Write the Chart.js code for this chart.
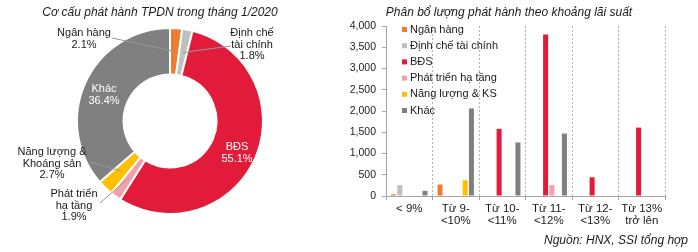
<!DOCTYPE html>
<html>
<head>
<meta charset="utf-8">
<script src="https://cdn.jsdelivr.net/npm/chart.js@4.4.0/dist/chart.umd.min.js"></script>
<style>
body { margin: 0; background: #fff; font-family: "Liberation Sans", Arial, sans-serif; }
#wrap { position: relative; width: 698px; height: 252px; overflow: hidden; }
.title { position: absolute; top: 5px; font-style: italic; font-size: 12px; color: #1a1a1a; text-align: center; white-space: nowrap; }
#src { position: absolute; top: 233px; right: 10px; font-style: italic; font-size: 12px; color: #1a1a1a; white-space: nowrap; }
#pieBox { position: absolute; left: 0; top: 0; width: 300px; height: 252px; }
#barBox { position: absolute; left: 300px; top: 0; width: 398px; height: 252px; }
</style>
</head>
<body>
<div id="wrap">
  <div id="pieBox"><canvas id="pie" width="300" height="252"></canvas></div>
  <div id="barBox"><canvas id="bar" width="398" height="252"></canvas></div>
  <div class="title" style="left:20px;width:280px;">Cơ cấu phát hành TPDN trong tháng 1/2020</div>
  <div class="title" style="left:359px;width:300px;">Phân bổ lượng phát hành theo khoảng lãi suất</div>
  <div id="src">Nguồn: HNX, SSI tổng hợp</div>
</div>
<script>
// donut data (% of issuance, Jan 2020)
const sectors = ['Ngân hàng', 'Định chế tài chính', 'BĐS', 'Phát triển hạ tầng', 'Năng lượng & Khoáng sản', 'Khác'];
const sectorShare = [2.1, 1.8, 55.1, 1.9, 2.7, 36.4];
const sectorLabelLines = [['Ngân hàng'], ['Định chế', 'tài chính'], ['BĐS'], ['Phát triển', 'hạ tầng'], ['Năng lượng &', 'Khoáng sản'], ['Khác']];

// bar data by interest rate band
const rateBands = [['< 9%'], ['Từ 9-', '<10%'], ['Từ 10-', '<11%'], ['Từ 11-', '<12%'], ['Từ 12-', '<13%'], ['Từ 13%', 'trở lên']];
const seriesNames = ['Ngân hàng', 'Định chế tài chính', 'BĐS', 'Phát triển hạ tầng', 'Năng lượng & KS', 'Khác'];
const nganHang = [40, 270, 0, 0, 0, 0];
const dinhChe = [255, 0, 0, 0, 0, 0];
const bds = [0, 0, 1580, 3800, 440, 1610];
const phatTrien = [0, 0, 0, 255, 0, 0];
const nangLuong = [0, 370, 0, 0, 0, 0];
const khac = [120, 2060, 1260, 1470, 0, 0];
const yTicks = [0, 500, 1000, 1500, 2000, 2500, 3000, 3500, 4000];

const colors = ['#ED7D31', '#BFBFBF', '#E31B3B', '#F4A0AA', '#FFC000', '#808080'];
const FONT = '"Liberation Sans", Arial, sans-serif';
Chart.defaults.font.family = FONT;

// label placement for the donut (text block centre, leader line start)
const pieLabelPos = [
    {x: 84, y: 33, dark: true, line: [112, 38]},
    {x: 252, y: 33, dark: true, line: [231, 46]},
    {x: 237, y: 147, dark: false},
    {x: 74, y: 194, dark: true, line: [100, 203]},
    {x: 52, y: 152, dark: true, line: [90, 162]},
    {x: 104, y: 89, dark: false}
];

const pieLabels = {
    id: 'pieLabels',
    afterDatasetsDraw(chart) {
        const ctx = chart.ctx;
        const arcs = chart.getDatasetMeta(0).data;
        ctx.save();
        ctx.font = '11px ' + FONT;
        ctx.textAlign = 'center';
        ctx.textBaseline = 'middle';
        pieLabelPos.forEach((p, i) => {
            const lines = sectorLabelLines[i].concat([sectorShare[i].toFixed(1) + '%']);
            if (p.line) {
                const c = arcs[i].tooltipPosition();
                ctx.strokeStyle = '#999';
                ctx.lineWidth = 1;
                ctx.beginPath();
                ctx.moveTo(p.line[0], p.line[1]);
                ctx.lineTo(c.x, c.y);
                ctx.stroke();
            }
            ctx.fillStyle = p.dark ? '#1a1a1a' : '#fff';
            lines.forEach((t, k) => ctx.fillText(t, p.x, p.y + k * 11.5));
        });
        ctx.restore();
    }
};

new Chart(document.getElementById('pie'), {
    type: 'doughnut',
    data: {
        labels: sectors,
        datasets: [{
            data: sectorShare,
            backgroundColor: colors,
            borderColor: '#fff',
            borderWidth: 2
        }]
    },
    options: {
        responsive: false,
        animation: false,
        cutout: '50%',
        layout: {padding: {left: 76, right: 36, top: 27, bottom: 37}},
        plugins: {legend: {display: false}, tooltip: {enabled: false}}
    },
    plugins: [pieLabels]
});

// legend drawn inside the plot, top-left
const barLegend = {
    id: 'barLegend',
    afterDraw(chart) {
        const ctx = chart.ctx;
        ctx.save();
        ctx.font = '11px ' + FONT;
        ctx.textBaseline = 'middle';
        chart.data.datasets.forEach((ds, i) => {
            const y = 29.5 + i * 16.2;
            ctx.fillStyle = ds.backgroundColor;
            ctx.fillRect(102, y - 2.5, 5, 5);
            ctx.fillStyle = '#1a1a1a';
            ctx.fillText(ds.label, 110, y);
        });
        ctx.restore();
    }
};

const seriesData = [nganHang, dinhChe, bds, phatTrien, nangLuong, khac];

new Chart(document.getElementById('bar'), {
    type: 'bar',
    data: {
        labels: rateBands,
        datasets: seriesData.map((d, i) => ({
            label: seriesNames[i],
            data: d,
            backgroundColor: colors[i],
            categoryPercentage: 0.81,
            barPercentage: 0.8
        }))
    },
    options: {
        responsive: false,
        animation: false,
        layout: {padding: {left: 0, right: 33, top: 26, bottom: 0}},
        plugins: {legend: {display: false}, tooltip: {enabled: false}},
        scales: {
            x: {
                offset: true,
                grid: {offset: true, color: '#b3b3b3', tickLength: 4, tickColor: '#a6a6a6'},
                border: {color: '#a6a6a6', dash: [2, 2]},
                ticks: {color: '#1a1a1a', font: {size: 11.5, lineHeight: 1.05}, padding: 3, maxRotation: 0, autoSkip: false},
                afterFit(s) { s.height = 56; }
            },
            y: {
                min: 0,
                max: 4000,
                afterBuildTicks(s) { s.ticks = yTicks.map(v => ({value: v})); },
                grid: {drawOnChartArea: false, drawTicks: true, tickLength: 4, color: '#a6a6a6'},
                border: {color: '#a6a6a6'},
                ticks: {color: '#1a1a1a', font: {size: 10.5}, padding: 6,
                    callback: v => v.toLocaleString('en-US')},
                afterFit(s) { s.width = 86; }
            }
        }
    },
    plugins: [barLegend]
});
</script>
</body>
</html>
